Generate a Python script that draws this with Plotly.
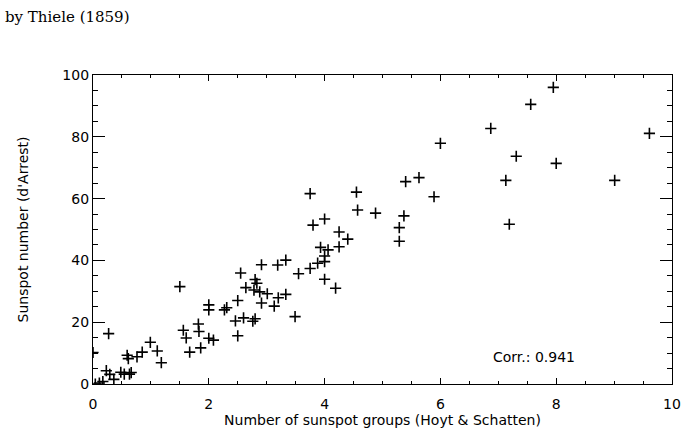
import plotly.graph_objects as go

groups = [0.0, 0.04, 0.11, 0.17, 0.23, 0.27, 0.29, 0.36, 0.48, 0.54, 0.59, 0.61, 0.63, 0.66,
          0.76, 0.85, 0.99, 1.11, 1.18, 1.50, 1.56, 1.61, 1.67, 1.82, 1.83, 1.86, 2.0, 2.0,
          2.0, 2.08, 2.27, 2.31, 2.46, 2.50, 2.50, 2.55, 2.6, 2.64, 2.76, 2.80, 2.78, 2.80,
          2.83, 2.88, 2.91, 2.91, 3.01, 3.13, 3.19, 3.20, 3.33, 3.33, 3.49, 3.55, 3.75, 3.75,
          3.80, 3.88, 3.93, 4.0, 4.0, 4.0, 4.0, 4.06, 4.19, 4.25, 4.25, 4.40, 4.55, 4.57,
          4.88, 5.29, 5.29, 5.37, 5.40, 5.63, 5.89, 6.0, 6.87, 7.13, 7.19, 7.31, 7.56, 7.95,
          8.0, 9.01, 9.61]
sunspots = [10.2, 0.0, 0.3, 0.8, 4.3, 16.3, 3.1, 1.5, 3.8, 3.2, 9.3, 8.2, 3.2, 3.7,
            8.8, 10.3, 13.5, 10.7, 6.9, 31.5, 17.4, 14.9, 10.3, 19.4, 17.0, 11.7, 25.6, 24.0,
            14.8, 14.2, 24.0, 24.7, 20.4, 27.0, 15.6, 35.9, 21.4, 31.2, 20.3, 21.1, 30.4, 33.8,
            32.6, 29.8, 38.6, 26.2, 29.2, 25.2, 38.5, 27.9, 40.1, 29.0, 21.8, 35.7, 37.4, 61.6,
            51.4, 39.1, 44.2, 53.4, 41.4, 39.6, 33.9, 43.4, 31.0, 49.2, 44.4, 46.9, 62.1, 56.3,
            55.3, 50.6, 46.2, 54.4, 65.5, 66.8, 60.6, 77.9, 82.7, 65.9, 51.7, 73.7, 90.5, 96.0,
            71.4, 65.9, 81.1]

x_ticks = [0, 2, 4, 6, 8, 10]
y_ticks = [0, 20, 40, 60, 80, 100]
corr_text = "Corr.: 0.941"
title_text = "by Thiele (1859)"

axis_font = dict(family="DejaVu Sans, Liberation Sans, sans-serif", size=14, color="black")

fig = go.Figure()
fig.add_trace(go.Scatter(
    x=groups, y=sunspots, mode="markers",
    marker=dict(symbol="cross-thin", size=8, color="black",
                line=dict(color="black", width=1.6)),
    cliponaxis=True, showlegend=False,
))

fig.update_layout(
    width=687, height=436,
    margin=dict(l=93, r=15, t=75, b=52, autoexpand=False),
    paper_bgcolor="white", plot_bgcolor="white",
    font=axis_font,
    xaxis=dict(
        range=[0, 10], tickvals=x_ticks, ticktext=[str(v) for v in x_ticks],
        ticks="inside", ticklen=6, tickwidth=1, tickcolor="black",
        minor=dict(dtick=0.5, ticks="inside", ticklen=3, tickcolor="black", tickwidth=1),
        showline=True, linecolor="black", linewidth=1.2, mirror="ticks",
        showgrid=False, zeroline=False, tickfont=axis_font, ticklabelstandoff=7,
        automargin=False,
        title=dict(text="Number of sunspot groups (Hoyt & Schatten)", font=axis_font, standoff=3),
    ),
    yaxis=dict(
        range=[0, 100], tickvals=y_ticks, ticktext=[str(v) for v in y_ticks],
        ticks="inside", ticklen=12, tickwidth=1, tickcolor="black",
        minor=dict(dtick=5, ticks="inside", ticklen=5, tickcolor="black", tickwidth=1),
        showline=True, linecolor="black", linewidth=1.2, mirror="ticks",
        showgrid=False, zeroline=False, tickfont=axis_font, automargin=False,
        title=dict(text="Sunspot number (d'Arrest)", font=axis_font, standoff=30),
    ),
    annotations=[
        dict(text=corr_text, xref="x", yref="y", x=6.88, y=8.8, xanchor="left",
             yanchor="middle", showarrow=False, font=axis_font),
        dict(text=title_text, xref="paper", yref="paper", x=-90/579, y=1 + 58/309,
             xanchor="left", yanchor="middle", showarrow=False,
             font=dict(family="DejaVu Serif, Liberation Serif, serif", size=15, color="black")),
    ],
)

fig.write_html("out.html")
